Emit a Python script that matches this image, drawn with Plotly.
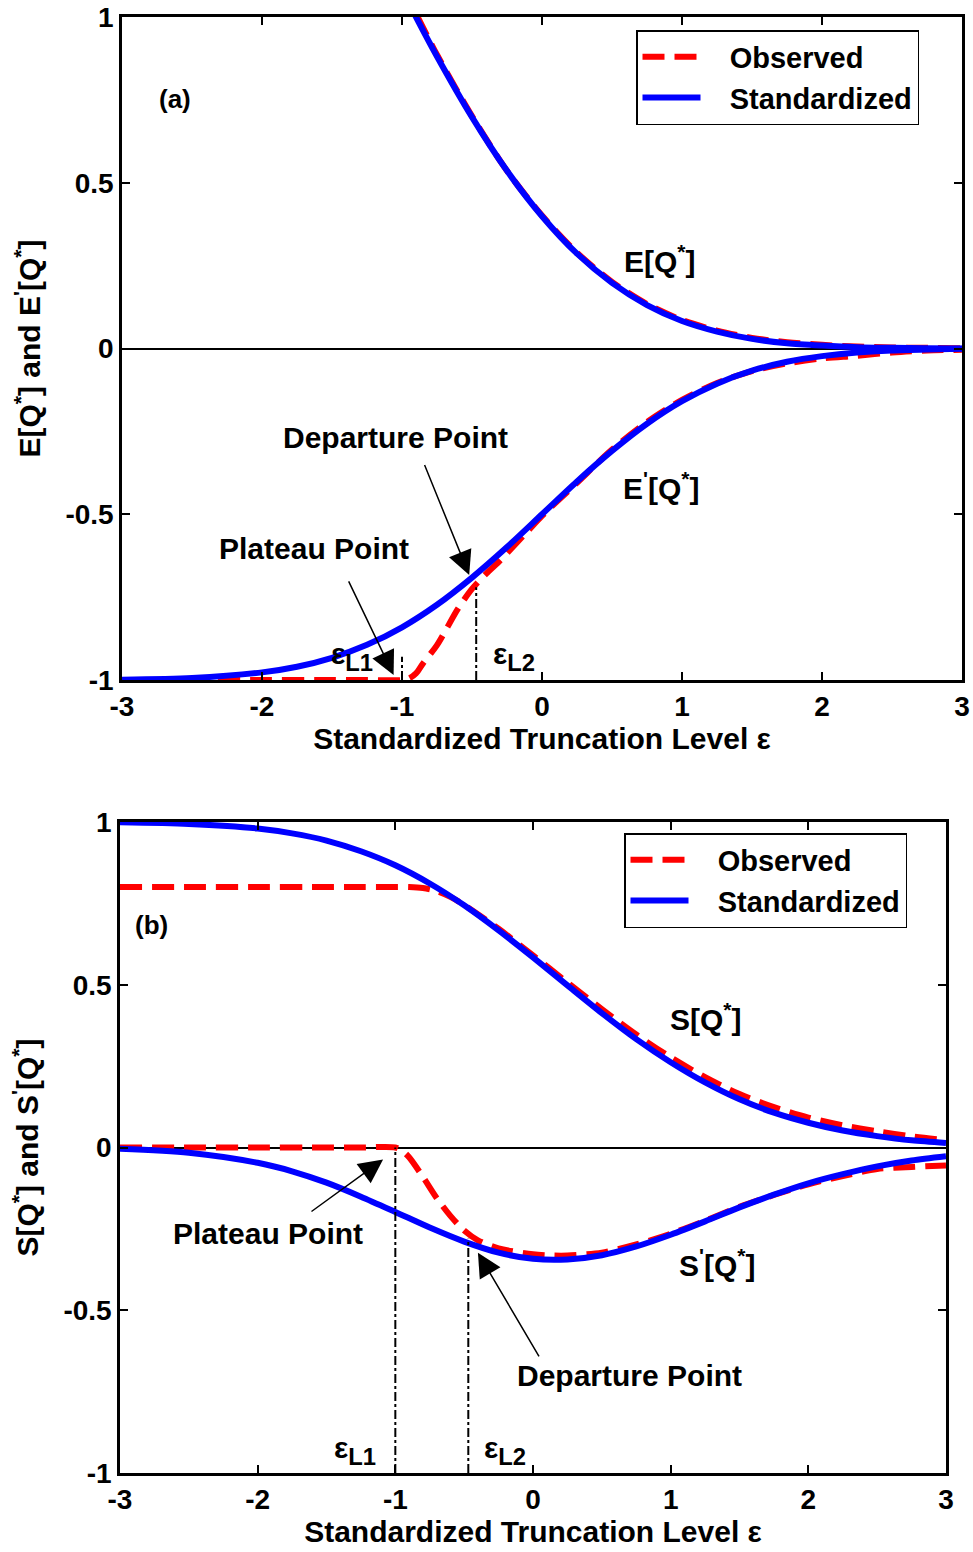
import plotly.graph_objects as go

# ---------------- panel (a): E[Q*] and E'[Q*] ----------------
eps_e = [-1, -0.9, -0.75, -0.5, -0.25, 0, 0.25, 0.5, 0.75, 1, 1.25, 1.5,
         1.75, 2, 2.25, 2.5, 2.75, 3]
e_std = [1.083, 1.000, 0.881, 0.698, 0.536, 0.399, 0.286, 0.198, 0.131,
         0.083, 0.051, 0.029, 0.016, 0.009, 0.004, 0.002, 0.001, 0.000]
e_obs = [1.090, 1.010, 0.886, 0.701, 0.536, 0.401, 0.289, 0.201, 0.134,
         0.086, 0.054, 0.032, 0.019, 0.011, 0.006, 0.003, 0.002, 0.001]

eps_ep_std = [-3, -2.5, -2, -1.75, -1.5, -1.25, -1, -0.75, -0.5, -0.25, 0,
              0.25, 0.5, 0.75, 1, 1.25, 1.5, 1.75, 2, 2.25, 2.5, 2.75, 3]
ep_std = [-0.999, -0.994, -0.977, -0.960, -0.933, -0.894, -0.841, -0.773,
          -0.691, -0.599, -0.500, -0.401, -0.309, -0.227, -0.159, -0.106,
          -0.067, -0.040, -0.023, -0.012, -0.006, -0.003, -0.001]

eps_ep_obs = [-3, -2.5, -2, -1.5, -1.25, -1, -0.95, -0.9, -0.85, -0.75, -0.6,
              -0.5, -0.4, -0.3, -0.2, -0.1, 0, 0.25, 0.5, 0.75, 1, 1.25, 1.5,
              1.75, 2, 2.25, 2.5, 2.75, 3]
ep_obs = [-1, -1, -1, -1, -1, -1, -0.995, -0.98, -0.95, -0.895, -0.785,
          -0.725, -0.68, -0.64, -0.595, -0.55, -0.505, -0.405, -0.305,
          -0.222, -0.155, -0.104, -0.068, -0.045, -0.030, -0.022, -0.012,
          -0.006, -0.004]

# ---------------- panel (b): S[Q*] and S'[Q*] ----------------
eps_s_std = [-3, -2.5, -2, -1.75, -1.5, -1.25, -1, -0.75, -0.5, -0.25, 0,
             0.25, 0.5, 0.75, 1, 1.25, 1.5, 1.75, 2, 2.25, 2.5, 2.75, 3]
s_std = [0.999, 0.994, 0.980, 0.965, 0.943, 0.910, 0.867, 0.811, 0.744,
         0.667, 0.584, 0.498, 0.413, 0.333, 0.262, 0.200, 0.148, 0.107,
         0.076, 0.052, 0.035, 0.022, 0.014]
sp_std = [-0.004, -0.016, -0.047, -0.073, -0.108, -0.151, -0.198, -0.246,
          -0.289, -0.323, -0.342, -0.344, -0.331, -0.304, -0.268, -0.227,
          -0.184, -0.145, -0.110, -0.082, -0.058, -0.040, -0.027]

eps_s_obs = [-3, -2.5, -2, -1.5, -1.25, -1, -0.9, -0.8, -0.7, -0.6, -0.5,
             -0.25, 0, 0.25, 0.5, 0.75, 1, 1.25, 1.5, 1.75, 2, 2.25, 2.5,
             2.75, 3]
s_obs = [0.80, 0.80, 0.80, 0.80, 0.80, 0.80, 0.80, 0.797, 0.788, 0.770,
         0.745, 0.672, 0.590, 0.507, 0.425, 0.347, 0.277, 0.216, 0.164,
         0.124, 0.092, 0.068, 0.050, 0.034, 0.022]

eps_sp_obs = [-3, -2.5, -2, -1.5, -1.25, -1, -0.95, -0.9, -0.8, -0.7, -0.6,
              -0.5, -0.4, -0.25, 0, 0.15, 0.25, 0.5, 0.75, 1, 1.25, 1.5,
              1.75, 2, 2.25, 2.5, 2.75, 3]
sp_obs = [0, 0, 0, 0, 0, 0, -0.01, -0.03, -0.09, -0.155, -0.21, -0.255,
          -0.285, -0.31, -0.328, -0.332, -0.332, -0.323, -0.298, -0.265,
          -0.225, -0.182, -0.146, -0.113, -0.088, -0.066, -0.060, -0.055]

# truncation levels marking the plateau and departure points
eps_L1 = -1.0
eps_L2 = -0.47
marker_tops_a = [-0.93, -0.72]   # upper end of the dash-dot markers, panel (a)
marker_tops_b = [0.0, -0.28]     # upper end of the dash-dot markers, panel (b)

x_ticks = [-3, -2, -1, 0, 1, 2, 3]
x_tick_text = ["-3", "-2", "-1", "0", "1", "2", "3"]
y_ticks = [-1, -0.5, 0, 0.5, 1]
y_tick_text = ["-1", "-0.5", "0", "0.5", "1"]

FONT = "Liberation Sans, Arial, sans-serif"
FS = 30          # labels and axis titles
FS_LEG = 29
FS_TICK = 28
RED = "#ff0000"
BLUE = "#0000ff"
LW = 6
DASH = "22px,10px"
GAP = "\u00a0\u00a0\u00a0"   # spacing between legend sample and its text

fig = go.Figure()


def add_curve(x, y, xa, ya, color, dash, name, legend, show):
    fig.add_trace(go.Scatter(
        x=x, y=y, xaxis=xa, yaxis=ya, mode="lines", name=GAP + name,
        line=dict(color=color, width=LW, dash=dash, shape="spline",
                  smoothing=0.8),
        legend=legend, showlegend=show, hoverinfo="skip"))


# panel (a): observed first, standardized drawn on top
add_curve(eps_ep_obs, ep_obs, "x", "y", RED, DASH, "Observed", "legend", True)
add_curve(eps_e, e_obs, "x", "y", RED, DASH, "Observed", "legend", False)
add_curve(eps_ep_std, ep_std, "x", "y", BLUE, "solid", "Standardized", "legend", True)
add_curve(eps_e, e_std, "x", "y", BLUE, "solid", "Standardized", "legend", False)

# panel (b)
add_curve(eps_s_obs, s_obs, "x2", "y2", RED, DASH, "Observed", "legend2", True)
add_curve(eps_sp_obs, sp_obs, "x2", "y2", RED, DASH, "Observed", "legend2", False)
add_curve(eps_s_std, s_std, "x2", "y2", BLUE, "solid", "Standardized", "legend2", True)
add_curve(eps_s_std, sp_std, "x2", "y2", BLUE, "solid", "Standardized", "legend2", False)

# dash-dot markers at eps_L1 and eps_L2
for xa, ya, tops in (("x", "y", marker_tops_a), ("x2", "y2", marker_tops_b)):
    for ex, top in zip((eps_L1, eps_L2), tops):
        fig.add_trace(go.Scatter(
            x=[ex, ex], y=[-1, top], xaxis=xa, yaxis=ya, mode="lines",
            line=dict(color="black", width=2, dash="dashdot"),
            showlegend=False, hoverinfo="skip"))

axis_common = dict(
    showline=True, linecolor="black", linewidth=2.5, mirror="ticks",
    ticks="inside", ticklen=8, tickwidth=2, tickcolor="black",
    showgrid=False, automargin=False,
    tickfont=dict(family=FONT, size=FS_TICK, color="black", weight="bold"),
)

W, H = 973, 1552


def px_x(a, b):
    return [a / W, b / W]


def px_y(top, bottom):
    return [1 - bottom / H, 1 - top / H]


title_font = dict(family=FONT, size=FS, color="black", weight="bold")
legend_font = dict(family=FONT, size=FS_LEG, color="black", weight="bold")
xt = dict(text="Standardized Truncation Level ε", font=title_font, standoff=6)

fig.update_layout(
    width=W, height=H,
    margin=dict(l=0, r=0, t=0, b=0, autoexpand=False),
    paper_bgcolor="white", plot_bgcolor="white",
    font=dict(family=FONT, size=FS, color="black", weight="bold"),
    xaxis=dict(axis_common, domain=px_x(122, 962), anchor="y",
               range=[-3, 3], tickvals=x_ticks, ticktext=x_tick_text,
               zeroline=False, title=xt),
    yaxis=dict(axis_common, domain=px_y(17, 680), anchor="x",
               range=[-1, 1], tickvals=y_ticks, ticktext=y_tick_text,
               zeroline=True, zerolinecolor="black", zerolinewidth=2,
               title=dict(text="E[Q<sup>*</sup>] and E<sup>'</sup>[Q<sup>*</sup>]",
                          font=title_font, standoff=16)),
    xaxis2=dict(axis_common, domain=px_x(120, 946), anchor="y2",
                range=[-3, 3], tickvals=x_ticks, ticktext=x_tick_text,
                zeroline=False, title=xt),
    yaxis2=dict(axis_common, domain=px_y(822, 1473), anchor="x2",
                range=[-1, 1], tickvals=y_ticks, ticktext=y_tick_text,
                zeroline=True, zerolinecolor="black", zerolinewidth=2,
                title=dict(text="S[Q<sup>*</sup>] and S<sup>'</sup>[Q<sup>*</sup>]",
                           font=title_font, standoff=16)),
    legend=dict(x=636 / W, y=1 - 30 / H, xanchor="left", yanchor="top",
                bgcolor="white", bordercolor="black", borderwidth=1.5,
                font=legend_font, itemwidth=58, tracegroupgap=0),
    legend2=dict(x=624 / W, y=1 - 833 / H, xanchor="left", yanchor="top",
                 bgcolor="white", bordercolor="black", borderwidth=1.5,
                 font=legend_font, itemwidth=58, tracegroupgap=0),
)


def label(text, x, y, xref, yref, size=FS):
    fig.add_annotation(text=text, x=x, y=y, xref=xref, yref=yref,
                       showarrow=False, xanchor="center", yanchor="middle",
                       font=dict(family=FONT, size=size, color="black",
                                 weight="bold"))


def arrow(x_head, y_head, x_tail, y_tail, xref, yref):
    fig.add_annotation(text="", x=x_head, y=y_head, ax=x_tail, ay=y_tail,
                       xref=xref, yref=yref, axref=xref, ayref=yref,
                       showarrow=True, arrowhead=2, arrowsize=3.2,
                       arrowwidth=1.5, arrowcolor="black", standoff=0)


EPS_L1_TEXT = "<span style='font-size:30px'>ε</span><sub>L1</sub>"
EPS_L2_TEXT = "<span style='font-size:30px'>ε</span><sub>L2</sub>"

# panel (a) labels
label("(a)", -2.62, 0.752, "x", "y", 26)
label("E[Q<sup>*</sup>]", 0.843, 0.269, "x", "y")
label("E<sup>'</sup>[Q<sup>*</sup>]", 0.857, -0.414, "x", "y")
label("Departure Point", -1.05, -0.269, "x", "y")
label("Plateau Point", -1.63, -0.604, "x", "y")
label(EPS_L1_TEXT, -1.36, -0.93, "x", "y", 34)
label(EPS_L2_TEXT, -0.20, -0.93, "x", "y", 34)
arrow(-0.52, -0.683, -0.843, -0.347, "x", "y")
arrow(-1.06, -0.985, -1.386, -0.698, "x", "y")

# panel (b) labels
label("(b)", -2.77, 0.683, "x2", "y2", 26)
label("S[Q<sup>*</sup>]", 1.256, 0.40, "x2", "y2")
label("S<sup>'</sup>[Q<sup>*</sup>]", 1.343, -0.354, "x2", "y2")
label("Plateau Point", -1.924, -0.265, "x2", "y2")
label("Departure Point", 0.704, -0.70, "x2", "y2")
label(EPS_L1_TEXT, -1.29, -0.93, "x2", "y2", 34)
label(EPS_L2_TEXT, -0.20, -0.93, "x2", "y2", 34)
arrow(-1.089, -0.037, -1.62, -0.20, "x2", "y2")
arrow(-0.40, -0.323, 0.05, -0.646, "x2", "y2")

fig.write_html("out.html")
